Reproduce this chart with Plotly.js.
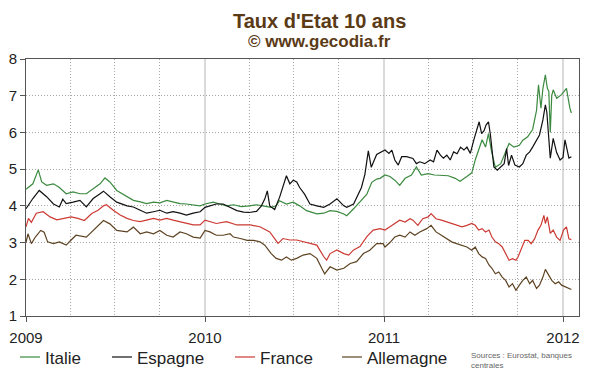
<!DOCTYPE html>
<html>
<head>
<meta charset="utf-8">
<script src="https://cdn.plot.ly/plotly-3.0.1.min.js"></script>
<style>html,body{margin:0;padding:0;background:#fff}#chart{width:600px;height:372px}</style>
</head>
<body>
<div id="chart"></div>
<script>
// ---- Data (10-year government bond yields, %) ----
const seriesNames = ["Italie", "Espagne", "France", "Allemagne"];
const yearTickVals = ["2009-01-01", "2010-01-01", "2011-01-01", "2012-01-01"];
const yearTickText = ["2009", "2010", "2011", "2012"];
const quarterGridVals = ["2009-04-01","2009-07-01","2009-10-01","2010-04-01","2010-07-01","2010-10-01","2011-04-01","2011-07-01","2011-10-01"];

const italieDates = ["2009-01-01","2009-01-15","2009-01-26","2009-02-02","2009-02-12","2009-02-26","2009-03-10","2009-03-24","2009-04-07","2009-04-21","2009-05-04","2009-05-18","2009-06-01","2009-06-11","2009-06-21","2009-07-05","2009-07-26","2009-08-08","2009-08-22","2009-09-04","2009-09-18","2009-10-01","2009-10-15","2009-10-28","2009-11-11","2009-11-24","2009-12-08","2009-12-22",
"2010-01-01","2010-01-18","2010-01-31","2010-02-14","2010-02-28","2010-03-16","2010-04-01","2010-04-16","2010-04-29","2010-05-16","2010-05-26","2010-06-02","2010-06-16","2010-06-30","2010-07-13","2010-07-27","2010-08-17","2010-08-31","2010-09-13","2010-09-27","2010-10-11","2010-10-17","2010-10-31","2010-11-13","2010-11-27","2010-12-07","2010-12-17","2010-12-24",
"2011-01-03","2011-01-13","2011-01-23","2011-02-02","2011-02-13","2011-02-26","2011-03-08","2011-03-18","2011-04-01","2011-04-14","2011-04-28","2011-05-12","2011-05-26","2011-06-05","2011-06-19","2011-06-29","2011-07-06","2011-07-13","2011-07-20","2011-07-27","2011-08-02","2011-08-08","2011-08-16","2011-08-27","2011-09-06","2011-09-13","2011-09-23","2011-10-04","2011-10-11","2011-10-21","2011-10-31","2011-11-08","2011-11-12","2011-11-17","2011-11-21","2011-11-26","2011-11-30","2011-12-03","2011-12-06","2011-12-09","2011-12-12","2011-12-19","2011-12-29","2012-01-08","2012-01-15","2012-01-18"];
const italieValues = [4.45,4.6,4.98,4.65,4.56,4.6,4.5,4.33,4.38,4.33,4.33,4.47,4.6,4.76,4.65,4.42,4.24,4.15,4.11,4.06,4.1,4.08,4.15,4.1,4.06,4.05,4.02,4.0,
4.05,4.1,4.05,4.0,4.03,3.98,4.0,4.03,4.0,3.96,4.0,4.14,4.05,4.1,4.0,3.87,3.78,3.8,3.87,3.85,3.78,3.73,3.92,4.1,4.32,4.64,4.73,4.75,
4.84,4.8,4.7,4.56,4.75,4.84,5.06,4.84,4.88,4.84,4.84,4.82,4.75,4.67,4.8,4.9,5.25,5.5,5.8,5.6,5.97,5.5,5.05,5.15,5.5,5.7,5.6,5.65,5.79,5.88,6.08,6.6,7.3,6.66,7.2,7.57,7.2,7.12,6.0,7.0,7.16,6.93,7.03,7.2,6.66,6.53];

const espagneDates = ["2009-01-01","2009-01-15","2009-01-28","2009-02-12","2009-02-26","2009-03-10","2009-03-17","2009-03-24","2009-04-07","2009-04-21","2009-05-04","2009-05-18","2009-06-01","2009-06-08","2009-06-21","2009-07-05","2009-07-26","2009-08-08","2009-08-22","2009-09-04","2009-09-18","2009-10-01","2009-10-15","2009-10-28","2009-11-11","2009-11-24","2009-12-08","2009-12-22",
"2010-01-01","2010-01-11","2010-01-24","2010-02-07","2010-02-21","2010-03-07","2010-03-21","2010-04-01","2010-04-16","2010-04-26","2010-05-03","2010-05-08","2010-05-13","2010-05-23","2010-06-02","2010-06-09","2010-06-16","2010-06-23","2010-06-30","2010-07-07","2010-07-13","2010-07-23","2010-08-03","2010-08-17","2010-08-31","2010-09-13","2010-09-27","2010-10-11","2010-10-17","2010-10-31","2010-11-06","2010-11-16","2010-11-23","2010-11-30","2010-12-06","2010-12-17",
"2011-01-03","2011-01-11","2011-01-17","2011-01-23","2011-01-30","2011-02-06","2011-02-16","2011-03-01","2011-03-08","2011-03-15","2011-03-25","2011-04-05","2011-04-12","2011-04-19","2011-04-26","2011-05-02","2011-05-09","2011-05-16","2011-05-23","2011-05-30","2011-06-06","2011-06-13","2011-06-19","2011-06-26","2011-07-03","2011-07-09","2011-07-14","2011-07-19","2011-07-24","2011-07-28","2011-08-02","2011-08-06","2011-08-13","2011-08-20","2011-08-27","2011-09-03","2011-09-08","2011-09-12","2011-09-18","2011-09-25","2011-10-04","2011-10-11","2011-10-18","2011-10-25","2011-10-31","2011-11-08","2011-11-14","2011-11-21","2011-11-23","2011-11-26","2011-11-29","2011-12-03","2011-12-06","2011-12-12","2011-12-19","2011-12-26","2012-01-01","2012-01-05","2012-01-10","2012-01-13","2012-01-18"];
const espagneValues = [3.92,4.2,4.42,4.25,4.05,3.97,4.18,4.06,4.1,4.15,3.97,4.2,4.33,4.4,4.25,4.1,4.0,3.97,3.88,3.8,3.84,3.88,3.8,3.84,3.8,3.75,3.8,3.84,
3.96,4.0,4.05,4.05,3.96,3.87,3.83,3.82,3.85,4.0,4.19,4.41,4.0,3.9,4.23,4.5,4.82,4.6,4.7,4.65,4.5,4.32,4.05,4.0,3.96,4.05,4.19,4.0,3.96,4.05,4.23,4.5,4.86,5.5,5.05,5.4,
5.52,5.43,5.52,5.25,5.11,5.34,5.34,5.29,5.15,5.2,5.15,5.25,5.2,5.52,5.38,5.3,5.38,5.25,5.47,5.42,5.6,5.52,5.6,5.43,5.79,6.06,6.29,5.97,6.05,6.2,6.29,5.93,5.06,4.97,5.05,5.15,5.56,5.1,5.38,5.11,5.06,5.15,5.38,5.47,5.6,5.79,5.93,6.34,6.5,6.75,6.55,5.95,5.3,5.84,5.45,5.25,5.32,5.8,5.45,5.3,5.34];

const franceDates = ["2009-01-01","2009-01-06","2009-01-12","2009-01-22","2009-02-05","2009-02-19","2009-03-05","2009-03-19","2009-04-03","2009-04-17","2009-04-30","2009-05-15","2009-05-28","2009-06-08","2009-06-14","2009-06-28","2009-07-12","2009-07-26","2009-08-08","2009-08-22","2009-09-04","2009-09-18","2009-10-01","2009-10-15","2009-10-28","2009-11-11","2009-11-24","2009-12-08","2009-12-22",
"2010-01-01","2010-01-24","2010-02-14","2010-03-07","2010-04-03","2010-04-23","2010-05-13","2010-05-23","2010-05-30","2010-06-09","2010-06-23","2010-07-07","2010-07-20","2010-08-03","2010-08-17","2010-08-31","2010-09-06","2010-09-13","2010-09-27","2010-10-11","2010-10-21","2010-10-31","2010-11-13","2010-11-27","2010-12-10","2010-12-24",
"2011-01-03","2011-01-13","2011-01-23","2011-02-02","2011-02-13","2011-02-23","2011-03-01","2011-03-11","2011-03-21","2011-04-01","2011-04-07","2011-04-17","2011-04-28","2011-05-09","2011-05-19","2011-05-29","2011-06-09","2011-06-19","2011-06-29","2011-07-06","2011-07-13","2011-07-20","2011-07-27","2011-08-03","2011-08-09","2011-08-16","2011-08-23","2011-08-30","2011-09-06","2011-09-13","2011-09-20","2011-09-27","2011-10-01","2011-10-08","2011-10-15","2011-10-22","2011-10-28","2011-11-04","2011-11-11","2011-11-17","2011-11-23","2011-11-26","2011-11-30","2011-12-06","2011-12-12","2011-12-19","2011-12-26","2012-01-02","2012-01-08","2012-01-13","2012-01-18"];
const franceValues = [3.43,3.66,3.55,3.8,3.84,3.7,3.62,3.66,3.7,3.66,3.6,3.79,3.88,4.0,4.03,3.88,3.75,3.66,3.6,3.57,3.61,3.66,3.61,3.66,3.61,3.57,3.52,3.48,3.48,
3.61,3.52,3.57,3.48,3.48,3.43,3.29,3.11,2.98,3.11,3.07,3.07,3.02,2.98,2.93,2.62,2.52,2.7,2.8,2.7,2.66,2.8,2.89,3.16,3.34,3.38,
3.34,3.43,3.52,3.61,3.56,3.65,3.61,3.47,3.65,3.7,3.79,3.65,3.61,3.56,3.52,3.47,3.43,3.47,3.52,3.47,3.34,3.38,3.29,3.34,3.15,3.02,2.97,2.88,2.7,2.52,2.56,2.52,2.6,2.84,3.06,3.06,2.97,3.1,3.34,3.47,3.74,3.52,3.7,3.25,3.34,3.15,3.06,3.34,3.43,3.1,3.08];

const allemagneDates = ["2009-01-01","2009-01-05","2009-01-12","2009-01-20","2009-01-31","2009-02-07","2009-02-14","2009-02-26","2009-03-10","2009-03-24","2009-04-03","2009-04-13","2009-05-04","2009-05-18","2009-06-01","2009-06-08","2009-06-21","2009-07-05","2009-07-26","2009-08-08","2009-08-22","2009-09-04","2009-09-18","2009-10-01","2009-10-15","2009-10-28","2009-11-11","2009-11-24","2009-12-08","2009-12-22",
"2010-01-01","2010-01-11","2010-01-24","2010-02-07","2010-02-21","2010-02-28","2010-03-14","2010-03-28","2010-04-10","2010-04-23","2010-05-03","2010-05-10","2010-05-16","2010-05-26","2010-06-06","2010-06-16","2010-06-26","2010-07-07","2010-07-20","2010-08-03","2010-08-17","2010-08-27","2010-09-02","2010-09-13","2010-09-27","2010-10-11","2010-10-24","2010-11-06","2010-11-20","2010-12-03","2010-12-17","2010-12-30",
"2011-01-03","2011-01-13","2011-01-23","2011-02-02","2011-02-13","2011-02-23","2011-03-05","2011-03-15","2011-03-29","2011-04-07","2011-04-17","2011-04-28","2011-05-09","2011-05-19","2011-05-29","2011-06-09","2011-06-19","2011-06-29","2011-07-06","2011-07-13","2011-07-20","2011-07-27","2011-08-03","2011-08-09","2011-08-16","2011-08-23","2011-08-30","2011-09-06","2011-09-13","2011-09-20","2011-09-27","2011-10-04","2011-10-11","2011-10-18","2011-10-25","2011-10-31","2011-11-08","2011-11-14","2011-11-21","2011-11-26","2011-12-03","2011-12-09","2011-12-16","2011-12-23","2011-12-29","2012-01-04","2012-01-11","2012-01-18"];
const allemagneValues = [3.0,3.24,2.97,3.15,3.33,3.28,3.02,2.97,3.02,2.93,3.07,3.2,3.15,3.33,3.51,3.6,3.51,3.33,3.29,3.42,3.24,3.29,3.24,3.33,3.2,3.15,3.29,3.24,3.15,3.12,
3.33,3.29,3.2,3.2,3.24,3.15,3.11,3.06,3.06,3.02,2.93,2.79,2.7,2.57,2.52,2.61,2.52,2.57,2.66,2.7,2.57,2.3,2.15,2.34,2.25,2.3,2.43,2.48,2.7,2.79,2.97,2.97,
2.88,3.0,3.15,3.2,3.15,3.29,3.2,3.29,3.38,3.47,3.29,3.2,3.11,3.02,2.97,2.93,2.88,2.79,2.88,2.7,2.61,2.57,2.39,2.3,2.15,2.2,2.06,1.97,1.79,1.88,1.7,1.84,1.97,2.06,1.88,1.97,1.75,1.84,2.06,2.27,2.1,1.97,1.88,1.93,1.84,1.8,1.77,1.72];

const seriesDates = [italieDates, espagneDates, franceDates, allemagneDates];
const seriesValues = [italieValues, espagneValues, franceValues, allemagneValues];
const seriesColors = ["#3b8a3f", "#111111", "#cc3a33", "#5e4322"];

// ---- Layout helpers (pixel -> paper) ----
const FONT = "'Liberation Sans', Arial, Helvetica, sans-serif";
const M = {l: 26, r: 21, t: 59, b: 56};
const W = 600, H = 372;
const PW = W - M.l - M.r, PH = H - M.t - M.b;
const px = x => (x - M.l) / PW;
const py = y => (H - M.b - y) / PH;

const traces = seriesNames.map((name, i) => ({
  type: "scatter", mode: "lines", name: name,
  x: seriesDates[i], y: seriesValues[i],
  line: {color: seriesColors[i], width: 1.2},
  hoverinfo: "skip"
}));

const legendSamples = [[20, 40, 43], [112, 132, 135], [235, 255, 258], [342, 362, 365]];
const shapes = [];
const annotations = [
  {text: "<b>Taux d'Etat 10 ans</b>", x: px(320), y: py(21), xref: "paper", yref: "paper",
   xanchor: "center", yanchor: "middle", showarrow: false,
   font: {family: FONT, size: 20, color: "#5b3a16"}},
  {text: "<b>© www.gecodia.fr</b>", x: px(320), y: py(41), xref: "paper", yref: "paper",
   xanchor: "center", yanchor: "middle", showarrow: false,
   font: {family: FONT, size: 17, color: "#5b3a16"}},
  {text: "Sources : Eurostat, banques<br>centrales", x: px(469), y: py(360), xref: "paper", yref: "paper",
   xanchor: "left", yanchor: "middle", align: "left", showarrow: false,
   font: {family: FONT, size: 8, color: "#666666"}}
];
seriesNames.forEach((name, i) => {
  const s = legendSamples[i];
  shapes.push({type: "line", xref: "paper", yref: "paper",
    x0: px(s[0]), x1: px(s[1]), y0: py(357), y1: py(357),
    line: {color: seriesColors[i], width: 1.2}});
  annotations.push({text: name, x: px(s[2]), y: py(358), xref: "paper", yref: "paper",
    xanchor: "left", yanchor: "middle", showarrow: false,
    font: {family: FONT, size: 17, color: "#222222"}});
});

const layout = {
  width: W, height: H,
  margin: M,
  paper_bgcolor: "#ffffff", plot_bgcolor: "#ffffff",
  showlegend: false,
  hovermode: false,
  font: {family: FONT, color: "#222222"},
  xaxis: {
    type: "date",
    range: ["2009-01-01", "2012-02-02 14:00"],
    tickmode: "array", tickvals: yearTickVals, ticktext: yearTickText,
    ticks: "outside", ticklen: 5, tickcolor: "#555555",
    tickfont: {family: FONT, size: 15, color: "#222222"},
    ticklabelstandoff: 3,
    showgrid: true, gridcolor: "#dadada", gridwidth: 1.5,
    minor: {tickmode: "array", tickvals: quarterGridVals, ticks: "", showgrid: true, gridcolor: "#a8a8a8", griddash: "1px,2px", gridwidth: 1},
    showline: true, linecolor: "#555555", linewidth: 1, mirror: true,
    zeroline: false, fixedrange: true
  },
  yaxis: {
    range: [1, 8], dtick: 1, tick0: 1,
    ticks: "outside", ticklen: 5, tickcolor: "#555555",
    tickfont: {family: FONT, size: 15, color: "#222222"},
    showgrid: true, gridcolor: "#a8a8a8", griddash: "1px,2px", gridwidth: 1,
    showline: true, linecolor: "#555555", linewidth: 1, mirror: true,
    zeroline: false, fixedrange: true
  },
  shapes: shapes,
  annotations: annotations
};

Plotly.newPlot("chart", traces, layout, {staticPlot: true, displayModeBar: false});
</script>
</body>
</html>
